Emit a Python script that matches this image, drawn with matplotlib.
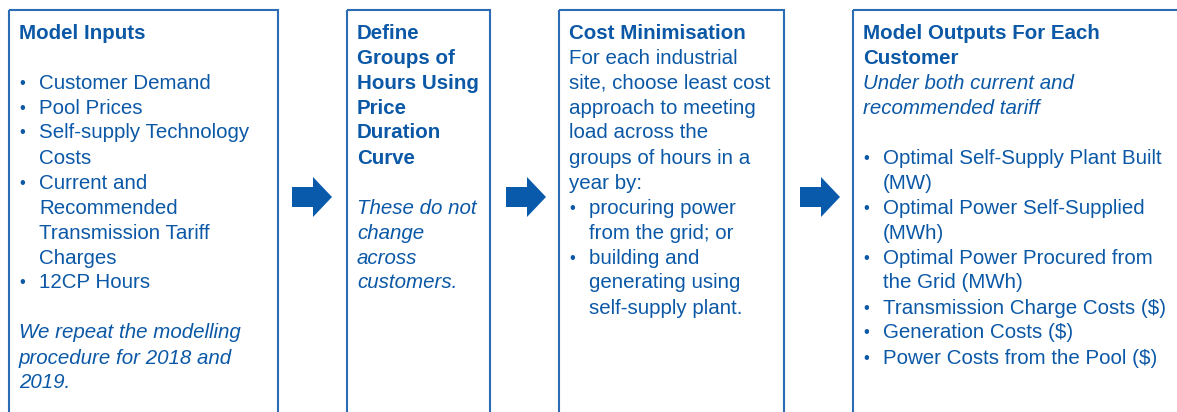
import matplotlib.pyplot as plt
from matplotlib.patches import Rectangle, Polygon

TEXT_BLUE = "#0b58a6"
LINE_BLUE = "#2b6cb5"
ARROW_BLUE = "#0a5aab"

# box extents in pixels (left, right)
BOX_X = [(9, 278), (347, 490), (559, 784), (853, 1190)]
ARROW_X = [292, 506, 800]

# each box: list of (kind, text) where kind in title / plain / bullet / cont / italic / blank
BOX1 = [("title", "Model Inputs"), ("blank", ""),
        ("bullet", "Customer Demand"), ("bullet", "Pool Prices"),
        ("bullet", "Self-supply Technology"), ("cont", "Costs"),
        ("bullet", "Current and"), ("cont", "Recommended"),
        ("cont", "Transmission Tariff"), ("cont", "Charges"),
        ("bullet", "12CP Hours"), ("blank", ""),
        ("italic", "We repeat the modelling"), ("italic", "procedure for 2018 and"),
        ("italic", "2019.")]
BOX2 = [("title", "Define"), ("title", "Groups of"), ("title", "Hours Using"),
        ("title", "Price"), ("title", "Duration"), ("title", "Curve"),
        ("blank", ""),
        ("italic", "These do not"), ("italic", "change"), ("italic", "across"),
        ("italic", "customers.")]
BOX3 = [("title", "Cost Minimisation"), ("plain", "For each industrial"),
        ("plain", "site, choose least cost"), ("plain", "approach to meeting"),
        ("plain", "load across the"), ("plain", "groups of hours in a"),
        ("plain", "year by:"),
        ("bullet", "procuring power"), ("cont", "from the grid; or"),
        ("bullet", "building and"), ("cont", "generating using"),
        ("cont", "self-supply plant.")]
BOX4 = [("title", "Model Outputs For Each"), ("title", "Customer"),
        ("italic", "Under both current and"), ("italic", "recommended tariff"),
        ("blank", ""),
        ("bullet", "Optimal Self-Supply Plant Built"), ("cont", "(MW)"),
        ("bullet", "Optimal Power Self-Supplied"), ("cont", "(MWh)"),
        ("bullet", "Optimal Power Procured from"), ("cont", "the Grid (MWh)"),
        ("bullet", "Transmission Charge Costs ($)"),
        ("bullet", "Generation Costs ($)"),
        ("bullet", "Power Costs from the Pool ($)")]
BOXES = [BOX1, BOX2, BOX3, BOX4]

W, H = 1177, 412
plt.rcParams["font.family"] = ["Liberation Sans", "DejaVu Sans"]

fig = plt.figure(figsize=(W / 100, H / 100), dpi=100)
ax = fig.add_axes([0, 0, 1, 1])
ax.set_xlim(0, W)
ax.set_ylim(H, 0)
ax.axis("off")

FS = 14.8
TOP = 10
LINE_H = 25
FIRST_Y = 33

for (x0, x1), lines in zip(BOX_X, BOXES):
    ax.add_patch(Rectangle((x0, TOP), x1 - x0, H + 20 - TOP, fill=False,
                           edgecolor=LINE_BLUE, linewidth=1.5))
    tx = x0 + 10
    for i, (kind, txt) in enumerate(lines):
        y = FIRST_Y + i * LINE_H
        if kind == "blank":
            continue
        kw = dict(color=TEXT_BLUE, fontsize=FS, va="center", ha="left")
        if kind == "title":
            ax.text(tx, y, txt, fontweight="bold", **kw)
        elif kind == "italic":
            ax.text(tx, y, txt, fontstyle="italic", **kw)
        elif kind == "plain":
            ax.text(tx, y, txt, **kw)
        else:
            if kind == "bullet":
                ax.text(tx, y, "\u2022", color=TEXT_BLUE, fontsize=FS * 0.8,
                        va="center", ha="left")
            ax.text(tx + 20, y, txt, **kw)

# arrows between boxes
for ax0 in ARROW_X:
    pts = [(ax0, 187), (ax0 + 21, 187), (ax0 + 21, 177), (ax0 + 40, 197),
           (ax0 + 21, 217), (ax0 + 21, 207), (ax0, 207)]
    ax.add_patch(Polygon(pts, closed=True, facecolor=ARROW_BLUE, edgecolor="none"))

fig.savefig("out.png", dpi=100)
